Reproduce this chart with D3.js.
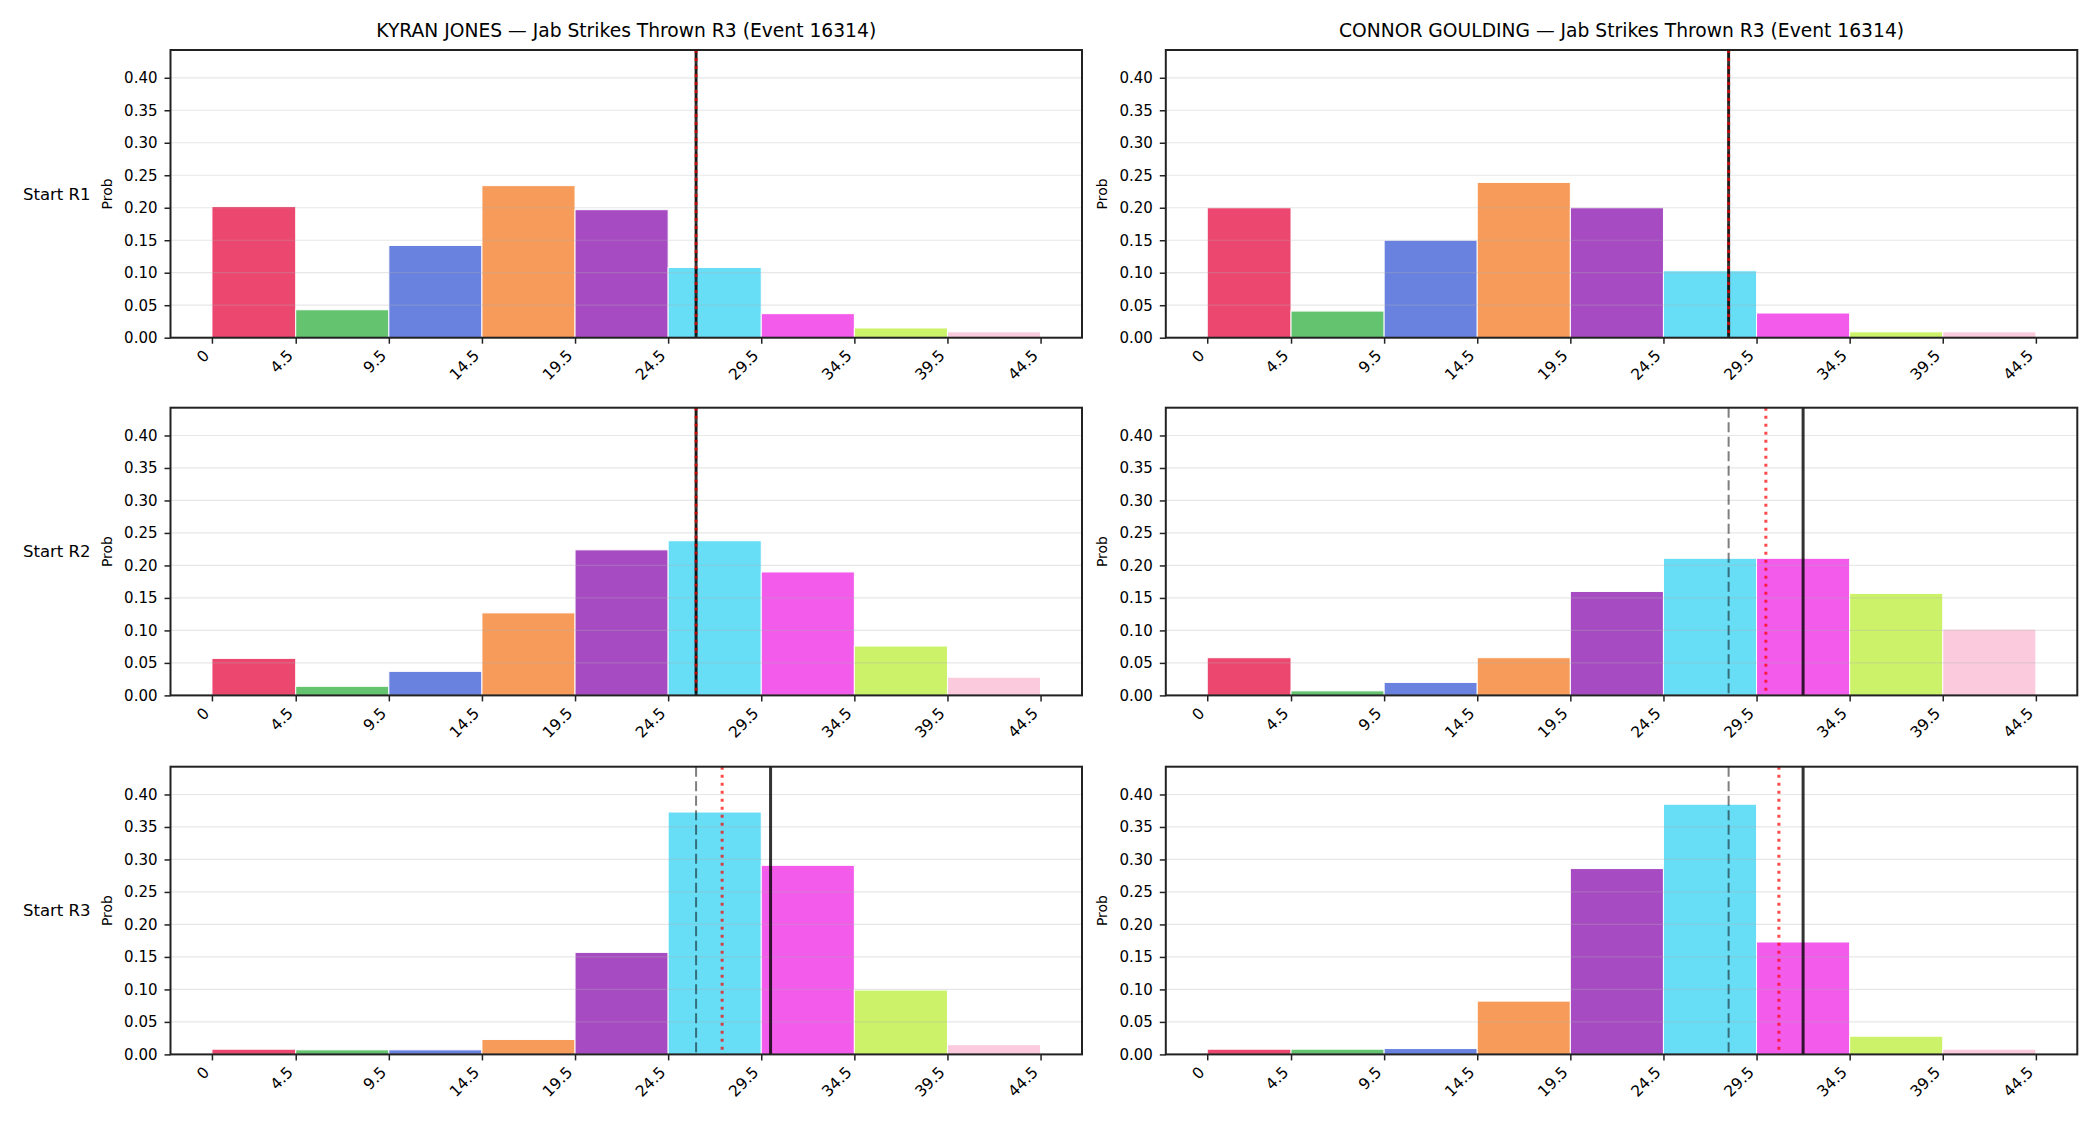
<!DOCTYPE html>
<html>
<head>
<meta charset="utf-8">
<script src="https://cdn.jsdelivr.net/npm/d3@7"></script>
<style>
  body { margin: 0; background: #fff; }
  svg { display: block; }
  text { font-family: "DejaVu Sans", sans-serif; fill: #000; }
</style>
</head>
<body>
<svg id="chart" width="2100" height="1125"></svg>
<script>
// bin edges (also the x tick labels)
const binEdges = [0, 4.5, 9.5, 14.5, 19.5, 24.5, 29.5, 34.5, 39.5, 44.5]
const binColors = ["#e6194b", "#3cb44b", "#4363d8", "#f58231", "#911eb4",
                   "#42d4f4", "#f032e6", "#bfef45", "#fabed4"]
const yTicks = [0, 0.05, 0.10, 0.15, 0.20, 0.25, 0.30, 0.35, 0.40]

const fighters = ["KYRAN JONES", "CONNOR GOULDING"]
const titleSuffix = " \u2014 Jab Strikes Thrown R3 (Event 16314)"
const rowLabels = ["Start R1", "Start R2", "Start R3"]

// probability per bin, one row per starting round
const kyranProbs = [
    [0.202, 0.043, 0.142, 0.234, 0.197, 0.108, 0.037, 0.015, 0.009],
    [0.057, 0.014, 0.037, 0.127, 0.224, 0.238, 0.190, 0.076, 0.028],
    [0.008, 0.007, 0.007, 0.023, 0.157, 0.373, 0.291, 0.099, 0.015]
]
const connorProbs = [
    [0.200, 0.041, 0.150, 0.239, 0.200, 0.103, 0.038, 0.009, 0.009],
    [0.058, 0.007, 0.020, 0.058, 0.160, 0.211, 0.211, 0.157, 0.102],
    [0.008, 0.008, 0.009, 0.082, 0.286, 0.385, 0.173, 0.028, 0.008]
]

// vertical reference lines per row: dashed (gray), dotted (red), solid (black)
const kyranDashed = [26, 26, 26]
const kyranDotted = [26, 26, 27.4]
const kyranSolid  = [26, 26, 30]
const connorDashed = [28, 28, 28]
const connorDotted = [28, 30, 30.7]
const connorSolid  = [28, 32, 32]

const svg = d3.select("#chart")

const colX = [170.5, 1165.8]
const rowY = [50, 407.7, 766.7]
const panelW = 911.5
const panelH = 287.7

const xMin = binEdges[0] - 0.05 * (binEdges[binEdges.length - 1] - binEdges[0])
const xMax = binEdges[binEdges.length - 1] + 0.05 * (binEdges[binEdges.length - 1] - binEdges[0])
const yMax = d3.max([...kyranProbs, ...connorProbs].flat()) * 1.15

const panels = [
    { probs: kyranProbs, dashed: kyranDashed, dotted: kyranDotted, solid: kyranSolid },
    { probs: connorProbs, dashed: connorDashed, dotted: connorDotted, solid: connorSolid }
]

panels.forEach((p, c) => {
    const left = colX[c]

    // column title
    svg.append("text")
        .attr("x", left + panelW / 2)
        .attr("y", 37)
        .attr("text-anchor", "middle")
        .style("font-size", "18.7px")
        .text(fighters[c] + titleSuffix)

    p.probs.forEach((row, r) => {
        const top = rowY[r]
        const x = d3.scaleLinear().domain([xMin, xMax]).range([left, left + panelW])
        const y = d3.scaleLinear().domain([0, yMax]).range([top + panelH, top])
        const g = svg.append("g")

        // bars
        g.selectAll("rect.bar")
            .data(row)
            .join("rect")
            .attr("class", "bar")
            .attr("x", (d, i) => x(binEdges[i]))
            .attr("width", (d, i) => x(binEdges[i + 1]) - x(binEdges[i]))
            .attr("y", d => y(d))
            .attr("height", d => y(0) - y(d))
            .attr("fill", (d, i) => binColors[i])
            .attr("fill-opacity", 0.8)
            .attr("stroke", "#fff")
            .attr("stroke-width", 1)

        // grid
        g.selectAll("line.grid")
            .data(yTicks)
            .join("line")
            .attr("class", "grid")
            .attr("x1", left).attr("x2", left + panelW)
            .attr("y1", d => y(d)).attr("y2", d => y(d))
            .attr("stroke", "#b0b0b0")
            .attr("stroke-opacity", 0.3)
            .attr("stroke-width", 1.2)

        // reference lines
        const vline = (v, color, width, dash) => g.append("line")
            .attr("x1", x(v)).attr("x2", x(v))
            .attr("y1", top).attr("y2", top + panelH)
            .attr("stroke", color)
            .attr("stroke-width", width)
            .attr("stroke-dasharray", dash)
        vline(p.dashed[r], "rgba(0,0,0,0.5)", 2, "10,4.5")
        vline(p.solid[r], "rgba(0,0,0,0.8)", 3, null)
        vline(p.dotted[r], "rgba(255,0,0,0.7)", 3, "3,5")

        // axes
        const yAxis = g.append("g")
            .attr("transform", `translate(${left},0)`)
            .call(d3.axisLeft(y).tickValues(yTicks).tickFormat(d3.format(".2f")).tickSize(6).tickPadding(7))
        const xAxis = g.append("g")
            .attr("transform", `translate(0,${top + panelH})`)
            .call(d3.axisBottom(x).tickValues(binEdges).tickFormat(d => d).tickSize(6))
        yAxis.select(".domain").remove()
        xAxis.select(".domain").remove()
        g.selectAll(".tick line").attr("stroke", "#222").attr("stroke-width", 1.5)
        yAxis.selectAll("text").style("font-size", "15px").attr("fill", "#000")
        xAxis.selectAll("text")
            .style("font-size", "15.5px")
            .attr("fill", "#000")
            .attr("text-anchor", "end")
            .attr("y", 0).attr("dy", "0.35em")
            .attr("transform", "translate(-6,15) rotate(-45)")

        // spines
        g.append("rect")
            .attr("x", left).attr("y", top)
            .attr("width", panelW).attr("height", panelH)
            .attr("fill", "none")
            .attr("stroke", "#222")
            .attr("stroke-width", 2)

        // y label
        g.append("text")
            .attr("transform", `translate(${left - 63.5},${top + panelH / 2}) rotate(-90)`)
            .attr("text-anchor", "middle")
            .attr("dy", "0.35em")
            .style("font-size", "14px")
            .text("Prob")

        if (c === 0) {
            g.append("text")
                .attr("x", 90.5)
                .attr("y", top + panelH / 2)
                .attr("dy", "0.35em")
                .attr("text-anchor", "end")
                .style("font-size", "16.5px")
                .text(rowLabels[r])
        }
    })
})
</script>
</body>
</html>
